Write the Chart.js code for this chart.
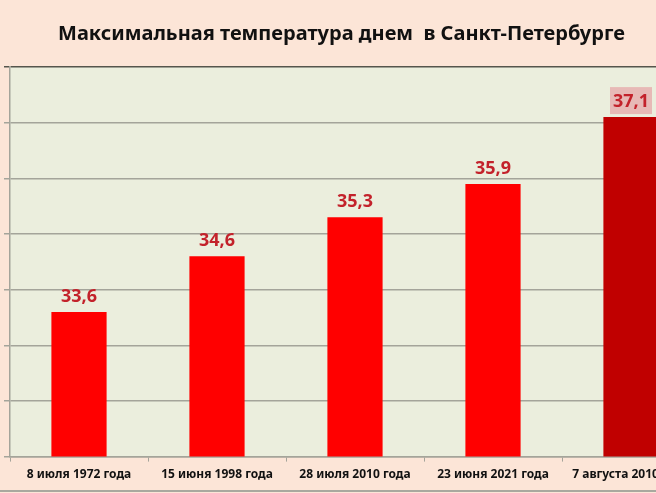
<!DOCTYPE html>
<html>
<head>
<meta charset="utf-8">
<script src="https://cdn.jsdelivr.net/npm/chart.js@4.4.1/dist/chart.umd.min.js"></script>
<style>
  html, body { margin: 0; padding: 0; width: 656px; height: 493px; overflow: hidden; background: #fce5d7; }
  #wrap { position: absolute; left: 0; top: 0; width: 700px; height: 493px; }
  #title { position: absolute; left: 0; top: 20px; width: 683px; text-align: center;
           font: bold 20px "Noto Sans"; line-height: 26px; color: #111; white-space: pre; }
  #rule { position: absolute; left: 0; top: 490px; width: 656px; height: 2px; background: #a9a89f; }
</style>
</head>
<body>
<div id="wrap"><canvas id="tempChart"></canvas></div>
<div id="title">Максимальная температура днем  в Санкт-Петербурге</div>
<div id="rule"></div>
<script>
const dates = ['8 июля 1972 года', '15 июня 1998 года', '28 июля 2010 года', '23 июня 2021 года', '7 августа 2010 года'];
const maxTemps = [33.6, 34.6, 35.3, 35.9, 37.1];
const yMin = 31;
const yMax = 38;

const lastIdx = maxTemps.length - 1;

// light green plot area behind the bars
const plotBg = {
    id: 'plotBg',
    beforeDraw(chart) {
        const {ctx, chartArea: a} = chart;
        ctx.save();
        ctx.fillStyle = '#ebeedd';
        ctx.fillRect(a.left, a.top, a.right - a.left, a.bottom - a.top);
        ctx.restore();
    }
};

// values over the bars, comma decimals
const barValues = {
    id: 'barValues',
    afterDatasetsDraw(chart) {
        const ctx = chart.ctx;
        const meta = chart.getDatasetMeta(0);
        ctx.save();
        ctx.font = 'bold 18px "Noto Sans"';
        ctx.textAlign = 'center';
        ctx.textBaseline = 'middle';
        meta.data.forEach((bar, i) => {
            const text = maxTemps[i].toFixed(1).replace('.', ',');
            const y = bar.y - 16;
            if (i === lastIdx) {
                ctx.fillStyle = '#e7b9b6';
                ctx.fillRect(bar.x - 21, y - 14, 42, 27);
            }
            ctx.fillStyle = '#c3222b';
            ctx.fillText(text, bar.x, y + 1);
        });
        ctx.restore();
    }
};

new Chart(document.getElementById('tempChart'), {
    type: 'bar',
    data: {
        labels: dates,
        datasets: [{
            data: maxTemps,
            backgroundColor: c => c.dataIndex === lastIdx ? '#c00000' : '#ff0000',
            borderWidth: 0,
            barPercentage: 0.4,
            categoryPercentage: 1
        }]
    },
    options: {
        responsive: true,
        maintainAspectRatio: false,
        animation: false,
        layout: {
            padding: { left: 4, right: 0, top: 67, bottom: 5 }
        },
        plugins: {
            legend: { display: false },
            tooltip: { enabled: false }
        },
        scales: {
            x: {
                grid: {
                    offset: true,
                    drawOnChartArea: false,
                    drawTicks: true,
                    tickLength: 5,
                    color: '#a4a49a'
                },
                border: { color: '#a4a49a', width: 1.5 },
                ticks: {
                    color: '#111',
                    padding: 6,
                    maxRotation: 0,
                    font: { family: 'Noto Sans', size: 12, weight: 'bold' }
                }
            },
            y: {
                min: yMin,
                max: yMax,
                ticks: { stepSize: 1, display: false },
                grid: {
                    color: c => c.tick && c.tick.value === yMax ? '#55554c' : '#a4a49a',
                    lineWidth: 1.5,
                    drawTicks: true,
                    tickLength: 6
                },
                border: { color: '#a4a49a', width: 1.5 }
            }
        }
    },
    plugins: [plotBg, barValues]
});
</script>
</body>
</html>
